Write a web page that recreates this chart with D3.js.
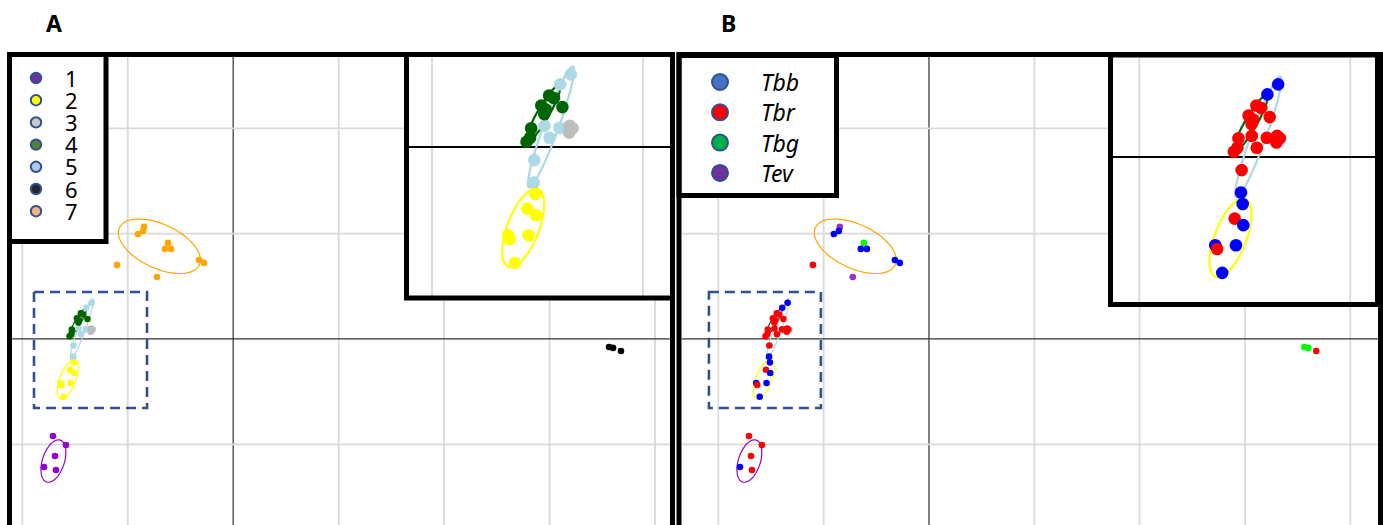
<!DOCTYPE html>
<html>
<head>
<meta charset="utf-8">
<script src="https://cdn.jsdelivr.net/npm/d3@7"></script>
<style>
  html, body { margin: 0; padding: 0; background: #fff; }
  svg { display: block; font-family: "Noto Sans", "Open Sans", sans-serif; }
</style>
</head>
<body>
<svg id="chart" width="1383" height="525"></svg>
<script>
// ---- data ----
var groups = ["1", "2", "3", "4", "5", "6", "7"];
var groupColors = ["#9400d3", "#ffff00", "#bdbdbd", "#006400", "#add8e6", "#000000", "#ffa500"];
var groupLegendColors = ["#7030a0", "#ffff00", "#c9c9c9", "#548235", "#b4c7e7", "#262626", "#f4b183"];

var species = ["Tbb", "Tbr", "Tbg", "Tev"];
var speciesColors = ["#0000ff", "#ff0000", "#00ff00", "#9932cc"];
var speciesLegendColors = ["#4472c4", "#ff0000", "#00b050", "#7030a0"];

var pointX = [
  -0.846, -0.855, -0.903, -0.618, -0.647, -0.590, -0.324, -0.277, -1.102, -0.723,
  -1.709, -1.586, -1.690, -1.794, -1.681,
  3.564, 3.602, 3.677,
  -1.342, -1.393, -1.396, -1.443, -1.467, -1.515, -1.518,
  -1.347, -1.334, -1.350,
  -1.510, -1.548, -1.507, -1.640, -1.631, -1.542, -1.607,
  -1.445, -1.422, -1.482, -1.461, -1.468, -1.382, -1.530, -1.535, -1.552
];
var pointY = [
  1.064, 1.026, 0.997, 0.912, 0.855, 0.855, 0.750, 0.722, 0.703, 0.589,
  -0.921, -1.007, -1.111, -1.216, -1.244,
  -0.076, -0.085, -0.114,
  0.344, 0.297, 0.091, 0.044, 0.100, -0.062, -0.168,
  0.100, 0.089, 0.069,
  -0.223, -0.292, -0.323, -0.418, -0.436, -0.418, -0.549,
  0.244, 0.232, 0.197, 0.178, 0.156, 0.189, 0.089, 0.044, 0.025
];
var pointGroup = [
  "7", "7", "7", "7", "7", "7", "7", "7", "7", "7",
  "1", "1", "1", "1", "1",
  "6", "6", "6",
  "5", "5", "5", "5", "5", "5", "5",
  "3", "3", "3",
  "2", "2", "2", "2", "2", "2", "2",
  "4", "4", "4", "4", "4", "4", "4", "4", "4"
];
var pointSpecies = [
  "Tev", "Tbb", "Tbb", "Tbg", "Tbb", "Tbb", "Tbb", "Tbb", "Tbr", "Tev",
  "Tbr", "Tbr", "Tbr", "Tbb", "Tbr",
  "Tbg", "Tbg", "Tbr",
  "Tbb", "Tbb", "Tbr", "Tbr", "Tbr", "Tbr", "Tbb",
  "Tbr", "Tbr", "Tbr",
  "Tbb", "Tbr", "Tbb", "Tbb", "Tbr", "Tbb", "Tbb",
  "Tbr", "Tbr", "Tbr", "Tbr", "Tbr", "Tbr", "Tbr", "Tbr", "Tbr"
];

// group ellipses (centre, semi axes, rotation in degrees)
var ellipseGroup = ["7", "1", "2", "5", "4"];
var ellipseCx = [-0.700, -1.705, -1.568, -1.436, -1.472];
var ellipseCy = [0.880, -1.159, -0.383, 0.095, 0.160];
var ellipseRx = [0.418, 0.209, 0.197, 0.305, 0.152];
var ellipseRy = [0.209, 0.104, 0.075, 0.035, 0.028];
var ellipseAngle = [-25, 72, 69, 70, 60];

var gridTicksX = [-2, -1, 0, 1, 2, 3, 4];
var gridTicksY = [-2, -1, 0, 1, 2];
var insetTicksX = [-2, -1];

// zoomed region marked on each main plot
var zoomBoxA = { x: [-1.889, -0.817], y: [0.446, -0.655] };
var zoomBoxB = { x: [-2.089, -1.026], y: [0.446, -0.655] };

// ---- layout ----
var panels = [
  { id: "A", label: "A", labelX: 46, colorBy: "group", frame: [9.5, 672.5], plot: [12, 670],
    xRange: [22.3, 655], zoomBox: zoomBoxA,
    legend: { x: 9.5, y: 54.5, w: 96.5, h: 187 },
    inset: { x: 406.5, y: 54.5, w: 266, h: 243.5, xRange: [432, 643], y0: 147 } },
  { id: "B", label: "B", labelX: 721, colorBy: "species", frame: [679, 1380.5], plot: [681.5, 1378],
    xRange: [718.3, 1350.3], zoomBox: zoomBoxB,
    legend: { x: 679, y: 55.5, w: 157.5, h: 140 },
    inset: { x: 1110.5, y: 55, w: 267, h: 249.5, xRange: [1139.3, 1350.3], y0: 157 } }
];

var svg = d3.select("#chart");
var defs = svg.append("defs");
var plotTop = 57, plotBottom = 530;

function ellipsePath(i, x, y) {
  var a = ellipseAngle[i] * Math.PI / 180;
  var pts = d3.range(0, 361, 4).map(function(t) {
    var r = t * Math.PI / 180;
    var ex = ellipseRx[i] * Math.cos(r), ey = ellipseRy[i] * Math.sin(r);
    return [ellipseCx[i] + ex * Math.cos(a) - ey * Math.sin(a),
            ellipseCy[i] + ex * Math.sin(a) + ey * Math.cos(a)];
  });
  return d3.line().x(function(d) { return x(d[0]); }).y(function(d) { return y(d[1]); })(pts);
}

function pointColor(p, i) {
  if (p.colorBy === "group") return groupColors[groups.indexOf(pointGroup[i])];
  return speciesColors[species.indexOf(pointSpecies[i])];
}

// draws grid, ellipses and points for one pair of scales
function drawScatter(g, p, x, y, opt) {
  var xExt = opt.xExt, yExt = opt.yExt;
  g.selectAll(".vgrid").data(opt.ticksX).enter().append("line")
    .attr("x1", function(d) { return x(d); }).attr("x2", function(d) { return x(d); })
    .attr("y1", yExt[0]).attr("y2", yExt[1])
    .attr("stroke", function(d) { return d === 0 ? "#404040" : "#d9d9d9"; })
    .attr("stroke-width", function(d) { return d === 0 ? 1.3 : 1.8; });
  g.selectAll(".hgrid").data(opt.ticksY).enter().append("line")
    .attr("x1", xExt[0]).attr("x2", xExt[1])
    .attr("y1", function(d) { return y(d); }).attr("y2", function(d) { return y(d); })
    .attr("stroke", function(d) { return d === 0 ? (opt.inset ? "#000" : "#303030") : "#d9d9d9"; })
    .attr("stroke-width", function(d) { return d === 0 ? (opt.inset ? 2 : 1.3) : 1.8; });

  g.selectAll(".ell").data(ellipseGroup).enter().append("path")
    .attr("d", function(d, i) { return ellipsePath(i, x, y); })
    .attr("fill", "none")
    .attr("stroke", function(d) { return groupColors[groups.indexOf(d)]; })
    .attr("stroke-width", opt.ellW);

  g.selectAll(".dot").data(pointX).enter().append("circle")
    .attr("cx", function(d, i) { return x(pointX[i]); })
    .attr("cy", function(d, i) { return y(pointY[i]); })
    .attr("r", opt.r)
    .attr("fill", function(d, i) { return pointColor(p, i); });
}

panels.forEach(function(p) {
  var x = d3.scaleLinear().domain([-2, 4]).range(p.xRange);
  var y = d3.scaleLinear().domain([-1, 2]).range([444.3, 128.3]);

  defs.append("clipPath").attr("id", "clip" + p.id).append("rect")
    .attr("x", p.plot[0]).attr("y", plotTop)
    .attr("width", p.plot[1] - p.plot[0]).attr("height", plotBottom - plotTop);

  var main = svg.append("g").attr("clip-path", "url(#clip" + p.id + ")");
  drawScatter(main, p, x, y, { ticksX: gridTicksX, ticksY: gridTicksY, xExt: p.plot, yExt: [plotTop, plotBottom], r: 3.3, ellW: 1.2 });

  // dashed zoom box
  main.append("rect")
    .attr("x", x(p.zoomBox.x[0])).attr("y", y(p.zoomBox.y[0]))
    .attr("width", x(p.zoomBox.x[1]) - x(p.zoomBox.x[0]))
    .attr("height", y(p.zoomBox.y[1]) - y(p.zoomBox.y[0]))
    .attr("fill", "none").attr("stroke", "#2f528f")
    .attr("stroke-width", 2.6).attr("stroke-dasharray", "10,6");

  // inset: same data at twice the scale
  var ins = p.inset;
  var xi = d3.scaleLinear().domain([-2, -1]).range(ins.xRange);
  var yi = d3.scaleLinear().domain([0, 1]).range([ins.y0, ins.y0 - (ins.xRange[1] - ins.xRange[0])]);
  defs.append("clipPath").attr("id", "iclip" + p.id).append("rect")
    .attr("x", ins.x).attr("y", ins.y).attr("width", ins.w).attr("height", ins.h);
  svg.append("rect").attr("x", ins.x).attr("y", ins.y).attr("width", ins.w).attr("height", ins.h).attr("fill", "#fff");
  var inset = svg.append("g").attr("clip-path", "url(#iclip" + p.id + ")");
  drawScatter(inset, p, xi, yi, { ticksX: insetTicksX, ticksY: [0], xExt: [ins.x, ins.x + ins.w], yExt: [ins.y, ins.y + ins.h], r: 6.3, ellW: 2.2, inset: true });
  svg.append("rect").attr("x", ins.x).attr("y", ins.y).attr("width", ins.w).attr("height", ins.h)
    .attr("fill", "none").attr("stroke", "#000").attr("stroke-width", 5);

  // legend
  var lg = p.legend;
  svg.append("rect").attr("x", lg.x).attr("y", lg.y).attr("width", lg.w).attr("height", lg.h)
    .attr("fill", "#fff").attr("stroke", "#000").attr("stroke-width", 5);
  var byGroup = p.colorBy === "group";
  var names = byGroup ? groups : species;
  var fills = byGroup ? groupLegendColors : speciesLegendColors;
  var step = byGroup ? 22.2 : 30.3;
  var y0 = byGroup ? 78 : 82;
  var mx = byGroup ? 36 : 720;
  var item = svg.selectAll(".leg" + p.id).data(names).enter().append("g")
    .attr("transform", function(d, i) { return "translate(" + mx + "," + (y0 + i * step) + ")"; });
  item.append("circle")
    .attr("r", byGroup ? 5.2 : 8)
    .attr("fill", function(d, i) { return fills[i]; })
    .attr("stroke", "#2f528f").attr("stroke-width", 2);
  item.append("text")
    .attr("x", byGroup ? 29 : 41).attr("y", byGroup ? 8.5 : 9)
    .attr("font-size", byGroup ? 22 : 23)
    .attr("font-style", byGroup ? "normal" : "italic")
    .attr("fill", "#000")
    .text(function(d) { return d; });

  // outer frame
  svg.append("rect").attr("x", p.frame[0]).attr("y", 54.5)
    .attr("width", p.frame[1] - p.frame[0]).attr("height", 500)
    .attr("fill", "none").attr("stroke", "#000").attr("stroke-width", 5);

  svg.append("text").attr("x", p.labelX).attr("y", 32)
    .attr("font-size", 23).attr("font-weight", "bold")
    .text(p.label);
});
</script>
</body>
</html>
